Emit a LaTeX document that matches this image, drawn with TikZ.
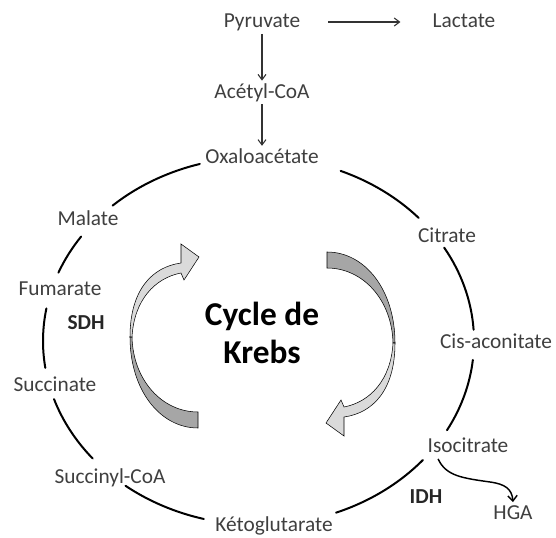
\documentclass[tikz,border=0pt]{standalone}
\usepackage{fontspec}
\setmainfont{Carlito}
\usepackage{tikz}
\usetikzlibrary{positioning,arrows.meta}
\definecolor{txtgray}{HTML}{3F3F3F}
\definecolor{arrowlight}{HTML}{DADADA}
\definecolor{arrowdark}{HTML}{A6A6A6}
% one arc of the cycle, between two angles of the ellipse
\newcommand{\cyclearc}[2]{\draw[cycleline] ([shift={(#1:215.5 and 184)}]258.5,-341) arc[start angle=#1,end angle=#2,x radius=215.5,y radius=184];}
\tikzset{
  metab/.style={font=\fontsize{16}{19}\selectfont,text=txtgray,inner sep=1pt,text height=12pt,text depth=3.5pt},
  enzyme/.style={font=\fontsize{16}{19}\selectfont\bfseries,text=black!85,inner sep=1pt},
  cycleline/.style={line width=1.5pt,line cap=round},
  thinarrow/.style={-{Straight Barb[length=4pt,width=6pt]},line width=0.8pt,draw=black!80},
  krebsarrow/.pic={
    \filldraw[fill=arrowdark,draw=black,line width=0.4pt] (-132.5,3) .. controls (-132.5,-50) and (-102.5,-88) .. (-64.5,-88) -- (-64.5,-72) .. controls (-100.5,-72) and (-129.5,-40) .. (-130.5,3) -- cycle;
    \filldraw[fill=arrowlight,draw=black,line width=0.4pt] (-132.5,3) .. controls (-132.5,50) and (-110.5,73) .. (-81.5,77) -- (-81.5,96) -- (-63.5,83) -- (-78.5,60) -- (-81.5,67) .. controls (-107.5,62) and (-128.5,40) .. (-130.5,3) -- cycle;
  }
}
\begin{document}
\begin{tikzpicture}[x=0.75pt,y=0.75pt]
\useasboundingbox (0,0) rectangle (556,-538);
% entry into the cycle
\node[metab] (pyr) at (262,-22) {Pyruvate};
\node[metab,right=97pt of pyr] (lac) {Lactate};
\node[metab,below=35pt of pyr] (acetyl) {Acétyl-CoA};
\node[metab,below=31pt of acetyl] (oxalo) {Oxaloacétate};
\draw[thinarrow,shorten <=20pt,shorten >=23pt] (pyr) -- (lac);
\draw[thinarrow] (pyr) -- (acetyl);
\draw[thinarrow] (acetyl) -- (oxalo);
% intermediates round the cycle
\node[metab] (citrate) at (447,-237) {Citrate};
\node[metab] (cis) at (496,-343) {Cis-aconitate};
\node[metab] (iso) at (468,-447) {Isocitrate};
\node[metab] (keto) at (274,-526) {Kétoglutarate};
\node[metab] (succoa) at (110,-478) {Succinyl-CoA};
\node[metab] (succ) at (55,-386) {Succinate};
\node[metab] (fum) at (60,-290) {Fumarate};
\node[metab] (malate) at (88,-220) {Malate};
\node[enzyme] (sdh) at (86,-323) {SDH};
\node[enzyme] (idh) at (426,-497) {IDH};
\node[metab] (hga) at (513,-514) {HGA};
\node[font=\fontsize{25}{28}\selectfont\bfseries,align=center] (krebs) at (262,-333) {Cycle de\\Krebs};
% the cycle
\cyclearc{67.6}{42}
\cyclearc{30.5}{3.5}
\cyclearc{-5.9}{-29}
\cyclearc{-40.3}{-68.9}
\cyclearc{255.3}{231.9}
\cyclearc{219.7}{198.4}
\cyclearc{188.4}{169.8}
\cyclearc{158.2}{145.4}
\cyclearc{132.6}{105.8}
\pic at (262.5,-340) {krebsarrow};
\pic[rotate=180] at (262.5,-340) {krebsarrow};
% side branch to HGA
\draw[-{Straight Barb[length=4pt,width=7pt]},line width=1.1pt] ([xshift=9pt]iso.south west) .. controls (446,-476) and (462,-478) .. (490,-482) .. controls (505,-484) and (512,-489) .. (hga.north);
\end{tikzpicture}
\end{document}
